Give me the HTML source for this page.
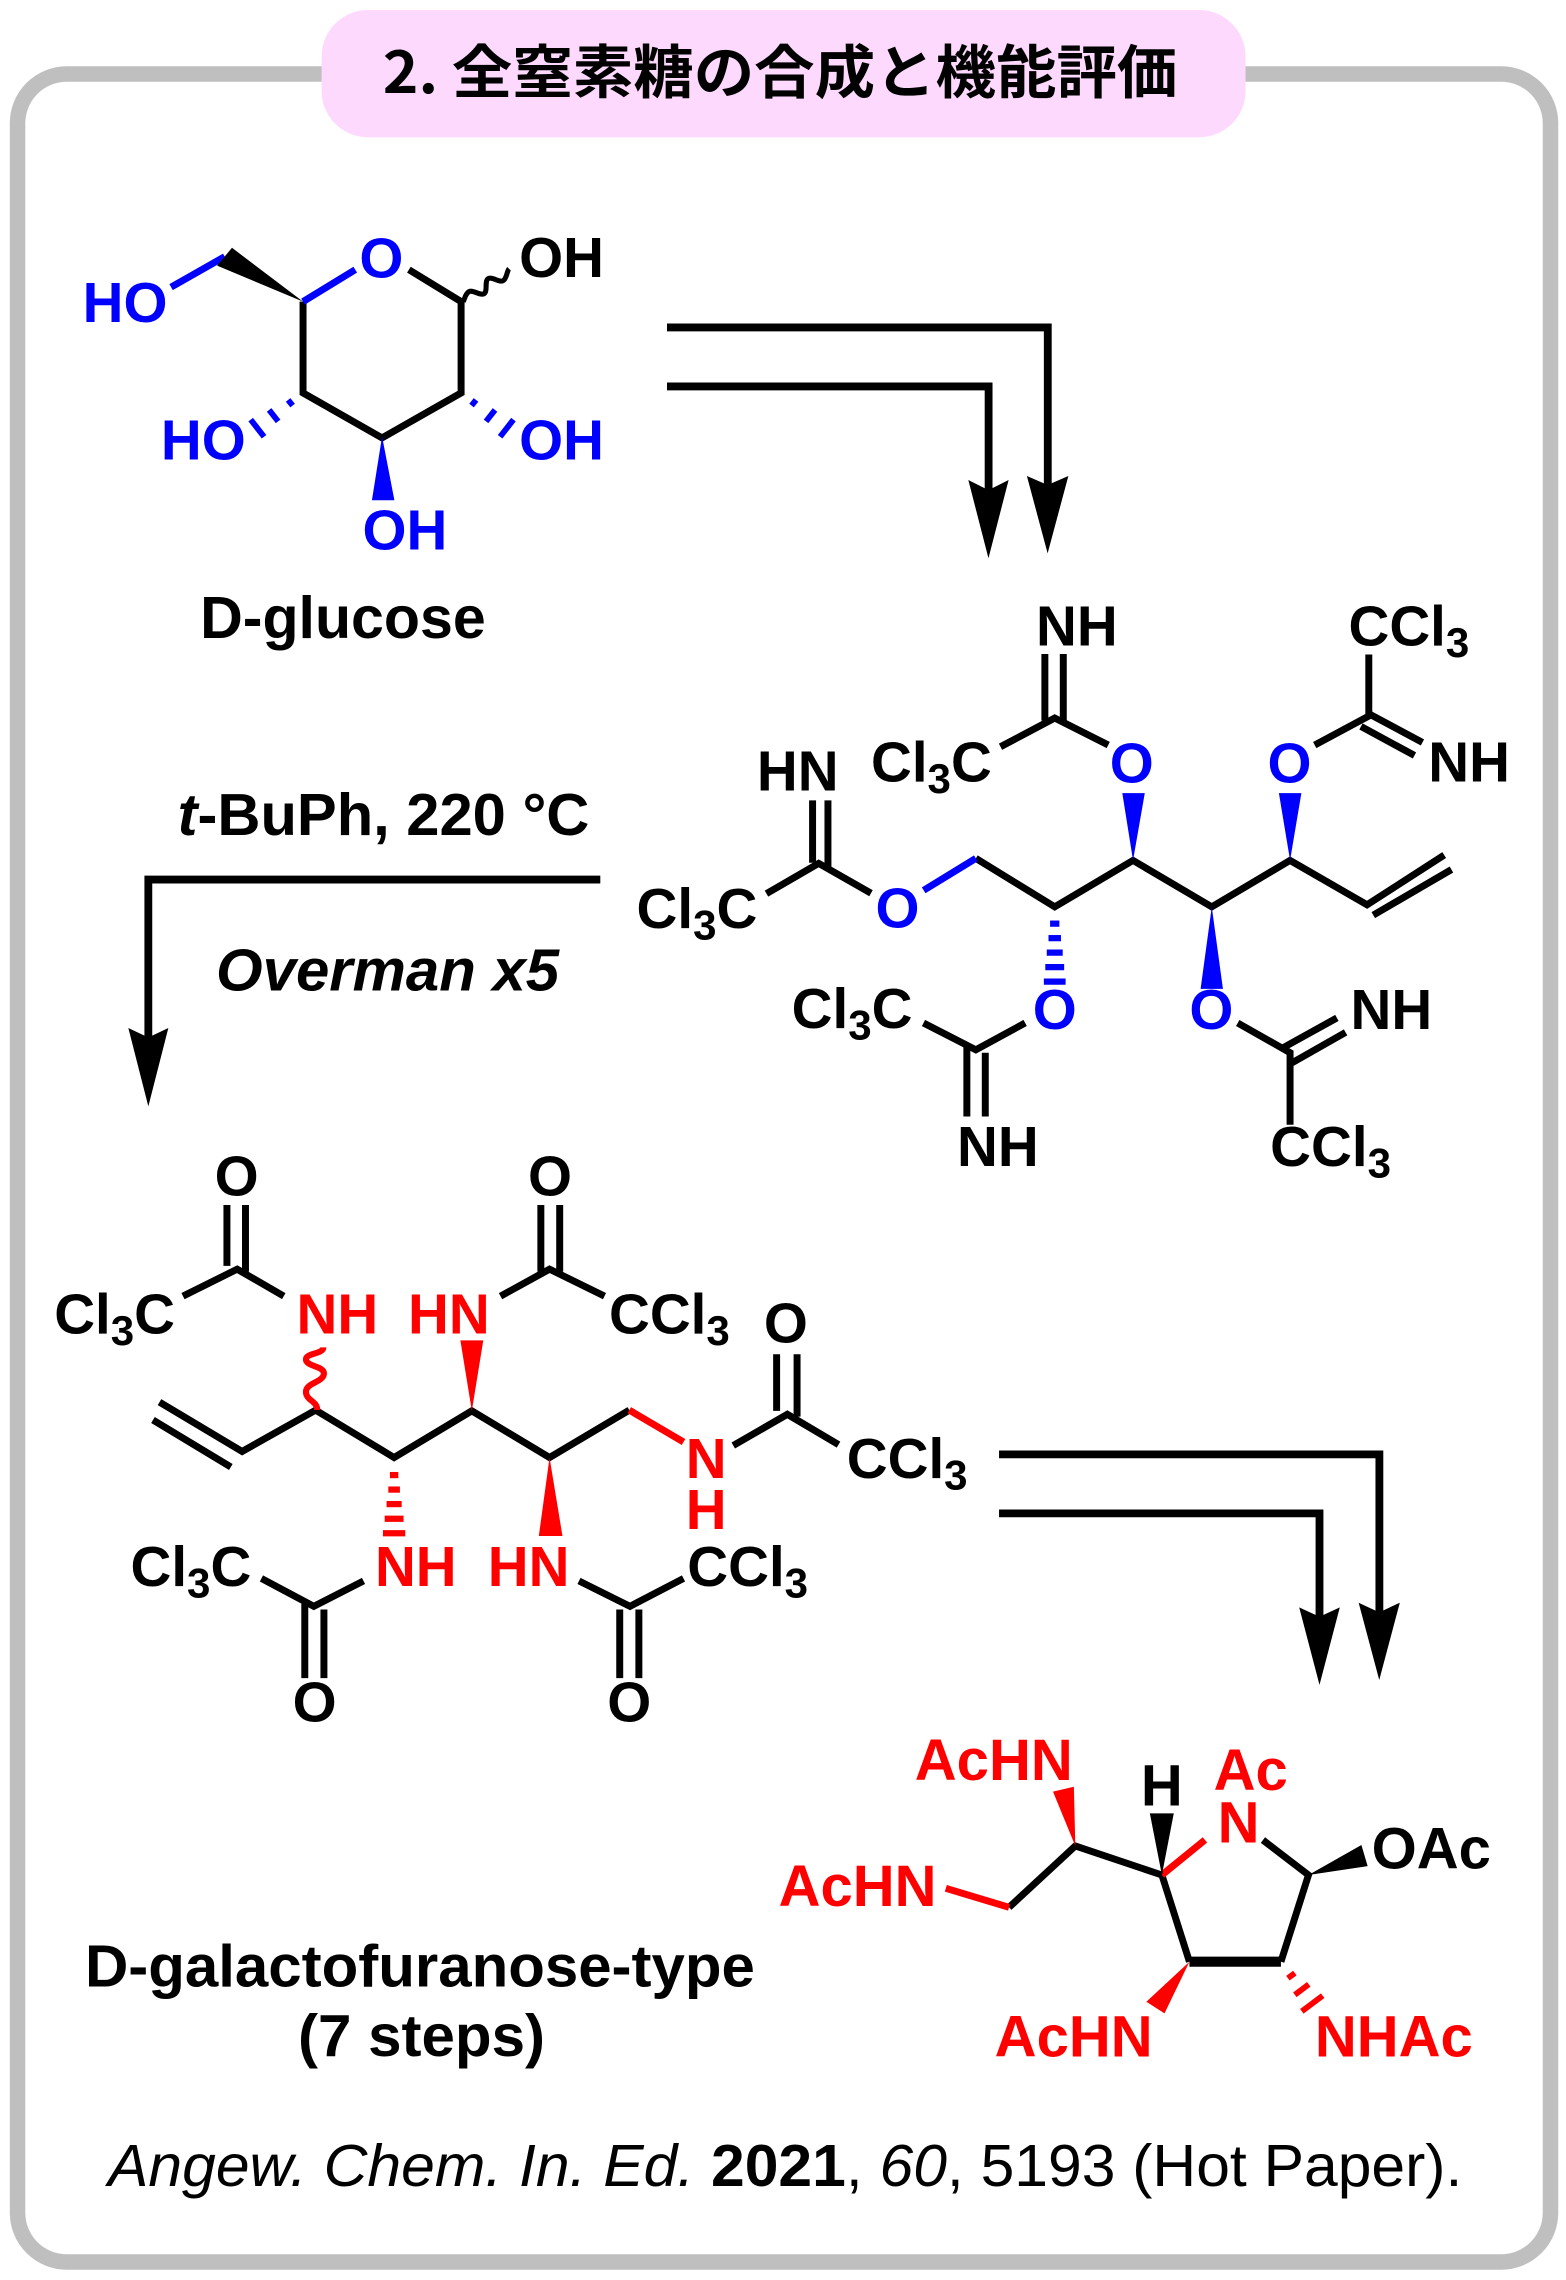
<!DOCTYPE html>
<html><head><meta charset="utf-8"><style>
html,body{margin:0;padding:0;background:#fff;}
svg{display:block;}
</style></head><body>
<svg xmlns="http://www.w3.org/2000/svg" width="1566" height="2280" viewBox="0 0 1080 1572.41">
<rect x="0" y="0" width="1080" height="1572.41" fill="#fff"/>
<!-- border -->
<rect x="12.1" y="51" width="1057.2" height="1509" rx="34" ry="34" fill="#fff" stroke="#bfbfbf" stroke-width="10.7"/>
<!-- title pill -->
<rect x="221.8" y="6.9" width="637.2" height="87.8" rx="32" ry="32" fill="#fdd9fd"/>
<text x="264" y="64" font-family="'Noto Sans CJK JP','Liberation Sans',sans-serif" font-weight="bold" font-size="40" textLength="548" lengthAdjust="spacingAndGlyphs" fill="#000">2. 全窒素糖の合成と機能評価</text>

<!-- arrows -->
<g fill="none" stroke="#000" stroke-width="5.4" stroke-linejoin="miter">
<path d="M460,225.8 H722.6 V336"/>
<path d="M460,266.5 H681.8 V339"/>
<path d="M414,606.6 H102.3 V716"/>
<path d="M689,1003 H951.3 V1113"/>
<path d="M689,1043.7 H910 V1116"/>
</g>
<g fill="#000">
<polygon points="722.5,381.6 708.2,328.3 722.5,334.5 736.8,328.3"/>
<polygon points="681.7,385 667.8,331 681.7,338 695.6,331"/>
<polygon points="102.3,763 88.5,709 102.3,715.5 116.1,709"/>
<polygon points="951.2,1158.6 937,1105.3 951.2,1112 965.4,1105.3"/>
<polygon points="910,1162 896,1108.5 910,1115 924,1108.5"/>
</g>

<g font-family="'Liberation Sans',Arial,sans-serif" font-weight="bold" font-size="39">

<!-- ============ D-glucose ============ -->
<g stroke-width="4.8" fill="none" stroke-linejoin="miter">
<polyline points="282,186 318,208 318,271 263.5,302 209,271 209,208" stroke="#000"/>
<line x1="209" y1="208" x2="245" y2="186" stroke="#0000ff"/>
<line x1="118" y1="198" x2="155" y2="177" stroke="#0000ff"/>
<path d="M319.5,208 C320.5,206 320.8,202.9 323.3,201.2 C325.8,199.5 331.4,204.2 333.9,202.5 C336.4,200.8 334.1,193.9 336.6,192.2 C339.1,190.5 344.6,195.2 347.1,193.5 C349.6,191.8 349.5,187 351.1,185.4" stroke="#000" stroke-width="3.5"/>
</g>
<polygon points="209,208 149.7,183.2 160,170.9" fill="#000"/>
<polygon points="263.5,301 256.5,345 272,345" fill="#0000ff"/>
<g stroke="#0000ff" stroke-width="4">
<line x1="198.7" y1="275.8" x2="201.8" y2="279.7"/>
<line x1="185.6" y1="282.7" x2="191.8" y2="290.6"/>
<line x1="172.9" y1="289.4" x2="182.1" y2="301.2"/>
<line x1="328.3" y1="275.8" x2="325.2" y2="279.7"/>
<line x1="341.4" y1="282.7" x2="335.2" y2="290.6"/>
<line x1="354.1" y1="289.4" x2="344.9" y2="301.2"/>
</g>
<text x="57" y="222" fill="#0000ff">HO</text>
<text x="263" y="191.5" text-anchor="middle" fill="#0000ff">O</text>
<text x="358" y="191" fill="#000">OH</text>
<text x="111" y="317" fill="#0000ff">HO</text>
<text x="358" y="317" fill="#0000ff">OH</text>
<text x="250" y="379" fill="#0000ff">OH</text>
<text x="138" y="440" font-size="41" textLength="197" lengthAdjust="spacingAndGlyphs" fill="#000">D-glucose</text>

<!-- reaction conditions -->
<text x="122.5" y="576" font-size="41" textLength="284" lengthAdjust="spacingAndGlyphs" fill="#000"><tspan font-style="italic">t</tspan>-BuPh, 220 °C</text>
<text x="149" y="683" font-size="41" font-style="italic" textLength="236.6" lengthAdjust="spacingAndGlyphs" fill="#000">Overman x5</text>

<!-- ============ imidate compound ============ -->
<g stroke-width="4.8" fill="none" stroke="#000" stroke-linejoin="miter">
<polyline points="673,592 727.4,625.4 781.4,593.4 835.7,625.4 889.7,593.4 942.8,624 996,589.7"/>
<line x1="947.1" y1="631.1" x2="1001" y2="599.7"/>
<line x1="637" y1="614" x2="673" y2="592" stroke="#0000ff"/>
<polyline points="600.7,616 564.6,595.4 528.6,616.3"/>
<line x1="560.4" y1="595" x2="560.4" y2="552"/>
<line x1="571" y1="599" x2="571" y2="552"/>
<polyline points="764.3,513.8 727.4,495.2 690,515"/>
<line x1="720.6" y1="497" x2="720.6" y2="451"/>
<line x1="733.3" y1="497" x2="733.3" y2="451"/>
<polyline points="906.7,513.8 944,493.8 944,451.4"/>
<line x1="944.1" y1="492.3" x2="981" y2="512"/>
<line x1="938.6" y1="501" x2="975.5" y2="521"/>
<polyline points="707,705.5 673,724 636.9,705.5"/>
<line x1="666.8" y1="722" x2="666.8" y2="770"/>
<line x1="679.5" y1="726" x2="679.5" y2="770"/>
<polyline points="853.6,705.5 889.7,726 889.7,775.7"/>
<line x1="885" y1="722.5" x2="922" y2="702"/>
<line x1="891" y1="733" x2="928" y2="712"/>
</g>
<g fill="#0000ff">
<polygon points="781.4,593.4 774,547 789.5,547"/>
<polygon points="889.7,593.4 882,547 897.5,547"/>
<polygon points="835.7,625.4 828,682 843.4,682"/>
</g>
<g stroke="#0000ff" stroke-width="4.3">
<line x1="724.2" y1="637" x2="730.6" y2="637"/>
<line x1="723.1" y1="647" x2="731.7" y2="647"/>
<line x1="721.9" y1="657" x2="732.9" y2="657"/>
<line x1="720.9" y1="667" x2="733.9" y2="667"/>
<line x1="719.9" y1="677" x2="734.9" y2="677"/>
</g>
<text x="714.5" y="445">NH</text>
<text x="930" y="445">CCl<tspan dy="8" font-size="29">3</tspan></text>
<text x="522" y="545">HN</text>
<text x="600.7" y="539">Cl<tspan dy="8" font-size="29">3</tspan><tspan dy="-8">C</tspan></text>
<text x="780.5" y="539.6" text-anchor="middle" fill="#0000ff">O</text>
<text x="889.3" y="539.6" text-anchor="middle" fill="#0000ff">O</text>
<text x="985" y="539">NH</text>
<text x="439" y="640">Cl<tspan dy="8" font-size="29">3</tspan><tspan dy="-8">C</tspan></text>
<text x="619" y="639.7" text-anchor="middle" fill="#0000ff">O</text>
<text x="727.4" y="709.6" text-anchor="middle" fill="#0000ff">O</text>
<text x="835.4" y="709.6" text-anchor="middle" fill="#0000ff">O</text>
<text x="546" y="709">Cl<tspan dy="8" font-size="29">3</tspan><tspan dy="-8">C</tspan></text>
<text x="931.4" y="709.6">NH</text>
<text x="660" y="804">NH</text>
<text x="876" y="804">CCl<tspan dy="8" font-size="29">3</tspan></text>

<!-- ============ trichloroacetamide compound ============ -->
<g stroke-width="4.8" fill="none" stroke="#000" stroke-linejoin="miter">
<polyline points="110,967 167,1001 217.7,972.5 271.8,1005.2 325.4,973 379,1005.2 434,972.5"/>
<line x1="105.5" y1="979.3" x2="159.2" y2="1011.7"/>
<line x1="434" y1="972.5" x2="471.4" y2="994.5" stroke="#ff0000"/>
<polyline points="505.7,996.9 543,975.4 578.3,996.3"/>
<line x1="535.6" y1="973" x2="535.6" y2="934"/>
<line x1="549.7" y1="977" x2="549.7" y2="934"/>
<polyline points="195.7,893.9 163.6,875.3 126.2,893.9"/>
<line x1="156.5" y1="873" x2="156.5" y2="831"/>
<line x1="169.3" y1="877" x2="169.3" y2="831"/>
<polyline points="345.2,893.9 379,875.3 416.9,893.9"/>
<line x1="373" y1="877" x2="373" y2="831"/>
<line x1="386" y1="877" x2="386" y2="831"/>
<polyline points="250.7,1090.3 216.4,1107.8 180.3,1088.6"/>
<line x1="210.2" y1="1106" x2="210.2" y2="1157.3"/>
<line x1="223.4" y1="1110" x2="223.4" y2="1157.3"/>
<polyline points="399.3,1090.3 434.5,1107.8 471.4,1088.6"/>
<line x1="427.4" y1="1110" x2="427.4" y2="1157.3"/>
<line x1="440.6" y1="1110" x2="440.6" y2="1157.3"/>
<path d="M218.8,972.4 C218.8,966 211,966 211,959.8 C211,953.5 223.4,953.4 223.4,947.1 C223.4,942 211,942.5 211,937.5 C211,933 223,934 223,929.2" stroke="#ff0000" stroke-width="4.2"/>
</g>
<g fill="#ff0000">
<polygon points="325.4,973 317.5,924.4 333.3,924.4"/>
<polygon points="379,1005.2 371.6,1059.3 387.9,1059.3"/>
</g>
<g stroke="#ff0000" stroke-width="4.3">
<line x1="268.9" y1="1017.3" x2="274.7" y2="1017.3"/>
<line x1="267.8" y1="1027.3" x2="275.8" y2="1027.3"/>
<line x1="266.6" y1="1037.3" x2="277" y2="1037.3"/>
<line x1="265.3" y1="1047.4" x2="278.3" y2="1047.4"/>
<line x1="264.1" y1="1057.4" x2="279.5" y2="1057.4"/>
</g>
<text x="163.2" y="824.4" text-anchor="middle">O</text>
<text x="379.3" y="824.4" text-anchor="middle">O</text>
<text x="37.4" y="919.7">Cl<tspan dy="8" font-size="29">3</tspan><tspan dy="-8">C</tspan></text>
<text x="204.5" y="919.7" fill="#ff0000">NH</text>
<text x="281.4" y="919.7" fill="#ff0000">HN</text>
<text x="420" y="919.7">CCl<tspan dy="8" font-size="29">3</tspan></text>
<text x="542" y="925.8" text-anchor="middle">O</text>
<text x="487" y="1019.4" text-anchor="middle" fill="#ff0000">N</text>
<text x="487" y="1054.6" text-anchor="middle" fill="#ff0000">H</text>
<text x="584" y="1019.4">CCl<tspan dy="8" font-size="29">3</tspan></text>
<text x="90" y="1093.8">Cl<tspan dy="8" font-size="29">3</tspan><tspan dy="-8">C</tspan></text>
<text x="258.6" y="1093.8" fill="#ff0000">NH</text>
<text x="336.4" y="1093.8" fill="#ff0000">HN</text>
<text x="474" y="1093.8">CCl<tspan dy="8" font-size="29">3</tspan></text>
<text x="217" y="1187.4" text-anchor="middle">O</text>
<text x="434" y="1187.4" text-anchor="middle">O</text>

<!-- ============ pyrrolidine compound ============ -->
<g stroke-width="4.8" fill="none" stroke="#000" stroke-linejoin="miter">
<polyline points="871,1269 902.4,1293.1 883.4,1352.9"/>
<line x1="883.4" y1="1352.9" x2="820.3" y2="1352.9" stroke-width="7"/>
<line x1="820.3" y1="1352.9" x2="801.3" y2="1293.1"/>
<line x1="801.3" y1="1293.1" x2="831" y2="1268.9" stroke="#ff0000"/>
<polyline points="801.3,1293.1 741.6,1273.1 695.9,1315.4"/>
<line x1="695.9" y1="1315.4" x2="652.3" y2="1302.3" stroke="#ff0000"/>
</g>
<polygon points="801.3,1293.1 793,1250.6 809.5,1250.6" fill="#000"/>
<polygon points="902.4,1293.1 938.9,1272.4 943.2,1287" fill="#000"/>
<g fill="#ff0000">
<polygon points="741.6,1273.1 726.2,1235.6 740.6,1232.2"/>
<polygon points="820.3,1352.9 790.6,1380.5 803.1,1388.5"/>
</g>
<g stroke="#ff0000" stroke-width="4">
<line x1="888.2" y1="1364.3" x2="893" y2="1360.7"/>
<line x1="893" y1="1375.7" x2="902.6" y2="1368.5"/>
<line x1="897.8" y1="1387.1" x2="912.2" y2="1376.3"/>
</g>
<text x="630.9" y="1227.6" font-size="40" fill="#ff0000">AcHN</text>
<text x="801.3" y="1245.3" font-size="40" text-anchor="middle">H</text>
<text x="837" y="1234.5" font-size="40" fill="#ff0000">Ac</text>
<text x="854.2" y="1270.8" font-size="40" text-anchor="middle" fill="#ff0000">N</text>
<text x="946" y="1288.5" font-size="40">OAc</text>
<text x="537" y="1314.5" font-size="40" fill="#ff0000">AcHN</text>
<text x="686" y="1418.4" font-size="40" fill="#ff0000">AcHN</text>
<text x="906.8" y="1418.4" font-size="40" fill="#ff0000">NHAc</text>

<text x="58.6" y="1370" font-size="41" textLength="462" lengthAdjust="spacingAndGlyphs">D-galactofuranose-type</text>
<text x="205.5" y="1418" font-size="41" textLength="170.4" lengthAdjust="spacingAndGlyphs">(7 steps)</text>
</g>

<!-- citation -->
<text x="74.5" y="1507.6" font-family="'Liberation Sans',Arial,sans-serif" font-size="41" textLength="934" lengthAdjust="spacingAndGlyphs" fill="#000"><tspan font-style="italic">Angew. Chem. In. Ed. </tspan><tspan font-weight="bold">2021</tspan>, <tspan font-style="italic">60</tspan>, 5193 (Hot Paper).</text>
</svg>
</body></html>
